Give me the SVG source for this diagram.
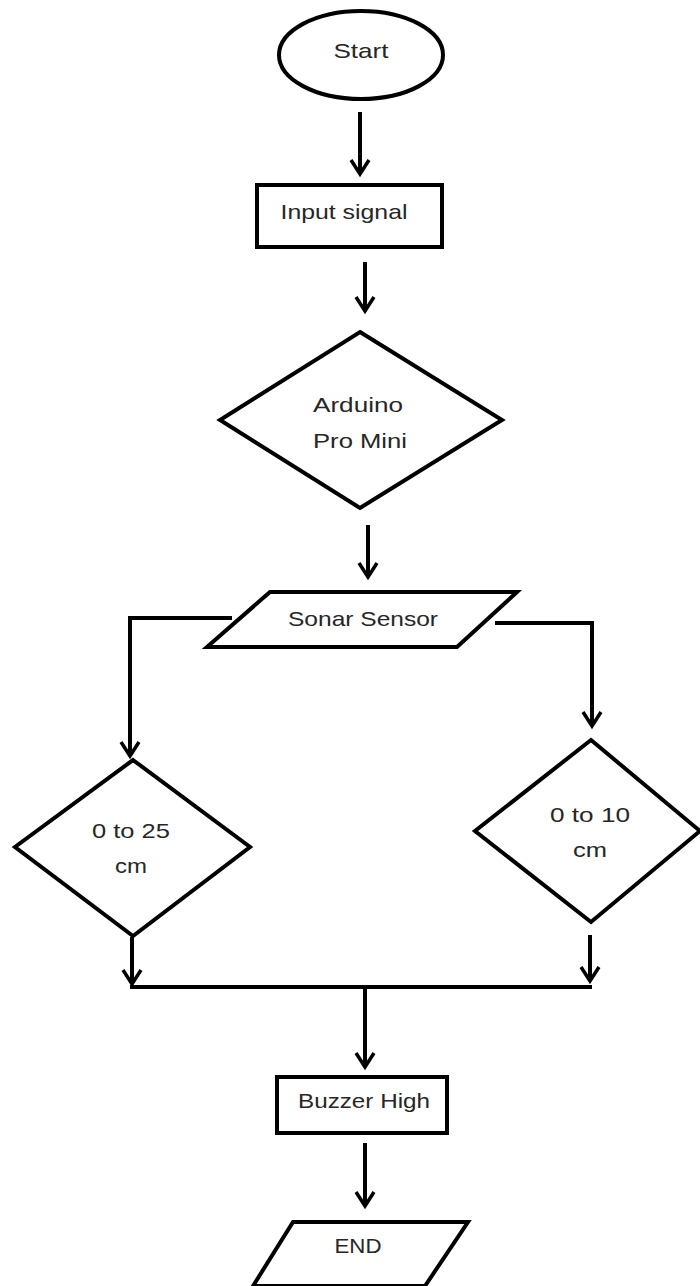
<svg xmlns="http://www.w3.org/2000/svg" width="700" height="1286" viewBox="0 0 700 1286">
<style>
.shape{fill:#fff;stroke:#000;stroke-width:4;stroke-linejoin:miter}
.conn{fill:none;stroke:#000;stroke-width:4}
.lbl{font-family:"Liberation Sans","Open Sans",sans-serif;font-size:21px;fill:#262626;text-anchor:middle}
</style>
<defs>
<marker id="arr" viewBox="-18 -12 22 24" markerWidth="22" markerHeight="24" refX="0" refY="0" orient="auto" markerUnits="userSpaceOnUse">
<path d="M -14 -9 L 0 0 L -14 9" fill="none" stroke="#000" stroke-width="3.5"/>
</marker>
</defs>
<rect width="700" height="1286" fill="#fff"/>
<g id="connectors">
<path class="conn" d="M360 112 L360 174" marker-end="url(#arr)"/>
<path class="conn" d="M365 262 L365 311" marker-end="url(#arr)"/>
<path class="conn" d="M368 525 L368 577" marker-end="url(#arr)"/>
<path class="conn" d="M232 618 L130 618 L130 756" marker-end="url(#arr)"/>
<path class="conn" d="M495 623 L592 623 L592 726" marker-end="url(#arr)"/>
<path class="conn" d="M132 937 L132 984" marker-end="url(#arr)"/>
<path class="conn" d="M590 935 L590 981" marker-end="url(#arr)"/>
<path class="conn" d="M130 987 L592 987"/>
<path class="conn" d="M365 987 L365 1067" marker-end="url(#arr)"/>
<path class="conn" d="M365 1143 L365 1206" marker-end="url(#arr)"/>
</g>
<g id="start">
<ellipse class="shape" cx="361" cy="55" rx="82" ry="44"/>
<text class="lbl" x="361" y="58" textLength="55" lengthAdjust="spacingAndGlyphs">Start</text>
</g>
<g id="input">
<rect class="shape" x="257" y="185" width="185" height="62"/>
<text class="lbl" x="344" y="219" textLength="127" lengthAdjust="spacingAndGlyphs">Input signal</text>
</g>
<g id="arduino">
<polygon class="shape" points="360,332 502,420 360,508 220,420"/>
<text class="lbl" x="358" y="412" textLength="90" lengthAdjust="spacingAndGlyphs">Arduino</text>
<text class="lbl" x="360" y="448" textLength="94" lengthAdjust="spacingAndGlyphs">Pro Mini</text>
</g>
<g id="sonar">
<polygon class="shape" points="270,592 517,592 457,647 207,647"/>
<text class="lbl" x="363" y="626" textLength="150" lengthAdjust="spacingAndGlyphs">Sonar Sensor</text>
</g>
<g id="d25">
<polygon class="shape" points="133,760 250,847 133,936 15,847"/>
<text class="lbl" x="131" y="838" textLength="78" lengthAdjust="spacingAndGlyphs">0 to 25</text>
<text class="lbl" x="131" y="873" textLength="32" lengthAdjust="spacingAndGlyphs">cm</text>
</g>
<g id="d10">
<polygon class="shape" points="591,740 700,831 591,922 475,831"/>
<text class="lbl" x="590" y="822" textLength="80" lengthAdjust="spacingAndGlyphs">0 to 10</text>
<text class="lbl" x="590" y="857" textLength="34" lengthAdjust="spacingAndGlyphs">cm</text>
</g>
<g id="buzzer">
<rect class="shape" x="277" y="1077" width="170" height="56"/>
<text class="lbl" x="364" y="1108" textLength="132" lengthAdjust="spacingAndGlyphs">Buzzer High</text>
</g>
<g id="end">
<polygon class="shape" points="293,1222 468,1222 425,1286 253,1286"/>
<text class="lbl" x="358" y="1253" textLength="47" lengthAdjust="spacingAndGlyphs">END</text>
</g>
</svg>
